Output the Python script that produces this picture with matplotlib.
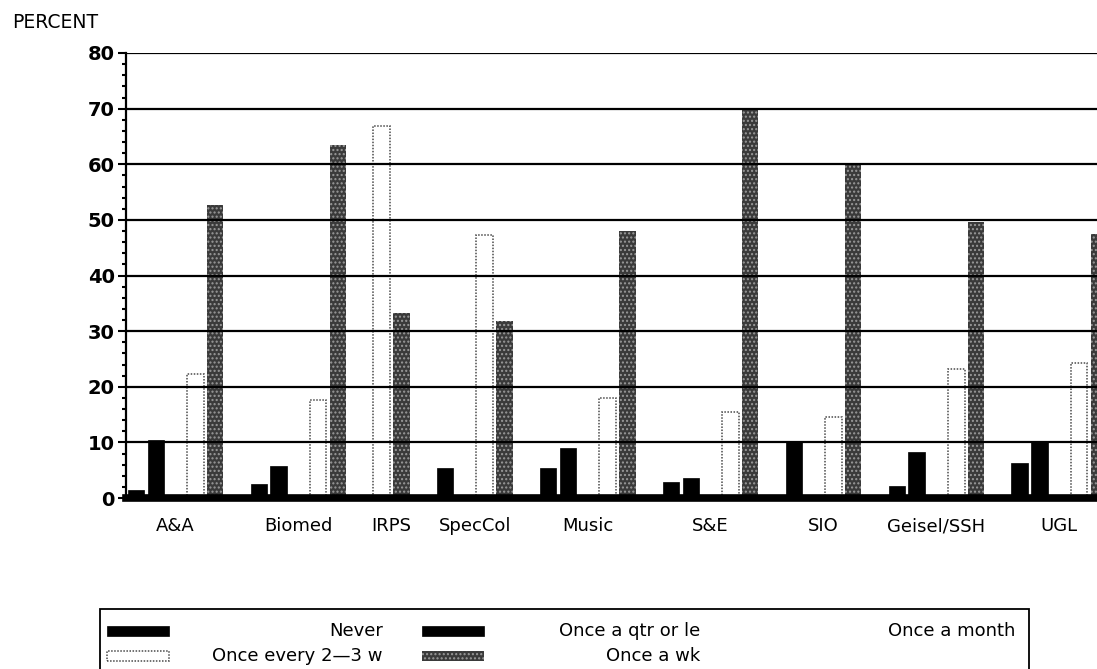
import numpy as np
import matplotlib
matplotlib.use("Agg")
import matplotlib.pyplot as plt
from matplotlib.patches import Rectangle
from matplotlib.ticker import MultipleLocator

# data (None = no bar / no slot for that group)
CATEGORIES = ["A&A", "Biomed", "IRPS", "SpecCol", "Music", "S&E", "SIO", "Geisel/SSH", "UGL"]
SERIES = ["Never", "Once a qtr or le", "Once a month", "Once every 2\u20143 w", "Once a wk"]
never = [1.4, 2.6, None, None, 5.4, 2.8, None, 2.2, 6.3]
qtr = [10.5, 5.8, None, 5.4, 9.0, 3.6, 10.0, 8.2, 10.0]
month = [0, 0, None, 0, 0, 0, 0, 0, 0]
every_2_3w = [22.3, 17.6, 66.8, 47.2, 18.0, 15.5, 14.5, 23.2, 24.3]
weekly = [52.7, 63.5, 33.2, 31.8, 48.0, 70.0, 59.8, 49.7, 47.4]
VALUES = [never, qtr, month, every_2_3w, weekly]

STYLES = [
    dict(facecolor="black", edgecolor="black", linewidth=0.5),
    dict(facecolor="black", edgecolor="black", linewidth=0.5),
    dict(facecolor="white", edgecolor="white", linewidth=0),
    dict(facecolor="white", edgecolor="#4a4a4a", linewidth=1.1, linestyle=(0, (1, 1))),
    dict(facecolor="#3a3a3a", edgecolor="#9a9a9a", linewidth=0, hatch="...."),
]

W, H = 1097, 669
fig = plt.figure(figsize=(W / 100, H / 100), dpi=100)
ax = fig.add_axes([126 / W, 1 - 498 / H, 1 - 126 / W, (498 - 53) / H])

# lay out the bars group by group, skipping empty slots
GAP = 1.2
pos = 0.0
centers = []
for i, cat in enumerate(CATEGORIES):
    xs = []
    for s, vals in enumerate(VALUES):
        v = vals[i]
        if v is None:
            continue
        ax.bar(pos, v, width=0.83, zorder=1, **STYLES[s])
        xs.append(pos)
        pos += 1
    centers.append(np.mean(xs))
    pos += GAP

ax.set_xlim(-0.5, 48.5)
ax.set_ylim(0, 80)
ax.set_xticks(centers)
ax.set_xticklabels(CATEGORIES, fontsize=13, family="DejaVu Sans")
ax.tick_params(axis="x", length=0, pad=14)

ax.yaxis.set_major_locator(MultipleLocator(10))
ax.yaxis.set_minor_locator(MultipleLocator(2))
ax.tick_params(axis="y", which="major", length=6, width=1.5, pad=2, labelsize=14)
ax.tick_params(axis="y", which="minor", length=3, width=1.5)
for lab in ax.get_yticklabels():
    lab.set_fontweight("bold")

ax.grid(axis="y", which="major", color="black", linewidth=1.6, zorder=3)
ax.set_axisbelow(False)

for side in ["top", "right"]:
    ax.spines[side].set_visible(False)
ax.spines["left"].set_linewidth(1.6)
ax.spines["bottom"].set_linewidth(5.5)
ax.spines["bottom"].set_zorder(4)

fig.text(12 / W, 1 - 23 / H, "PERCENT", fontsize=13.5, ha="left", va="center")

# legend box drawn by hand (three columns, labels right-aligned)
def fx(px):
    return px / W

def fy(py):
    return 1 - py / H

box = Rectangle((fx(100), fy(700)), fx(1029) - fx(100), fy(609) - fy(700),
                transform=fig.transFigure, fill=False, edgecolor="black", linewidth=1.3)
fig.add_artist(box)

col_swatch = [107, 422, 738]
col_text = [383, 700, 1015]
row_y = [631, 656]
for k, name in enumerate(SERIES):
    r, c = divmod(k, 3)
    y = row_y[r]
    sw = Rectangle((fx(col_swatch[c]), fy(y + 5)), fx(62), fy(0) - fy(10),
                   transform=fig.transFigure, **STYLES[k])
    fig.add_artist(sw)
    fig.text(fx(col_text[c]), fy(y), name, fontsize=13, ha="right", va="center")

fig.savefig("out.png", dpi=100)
